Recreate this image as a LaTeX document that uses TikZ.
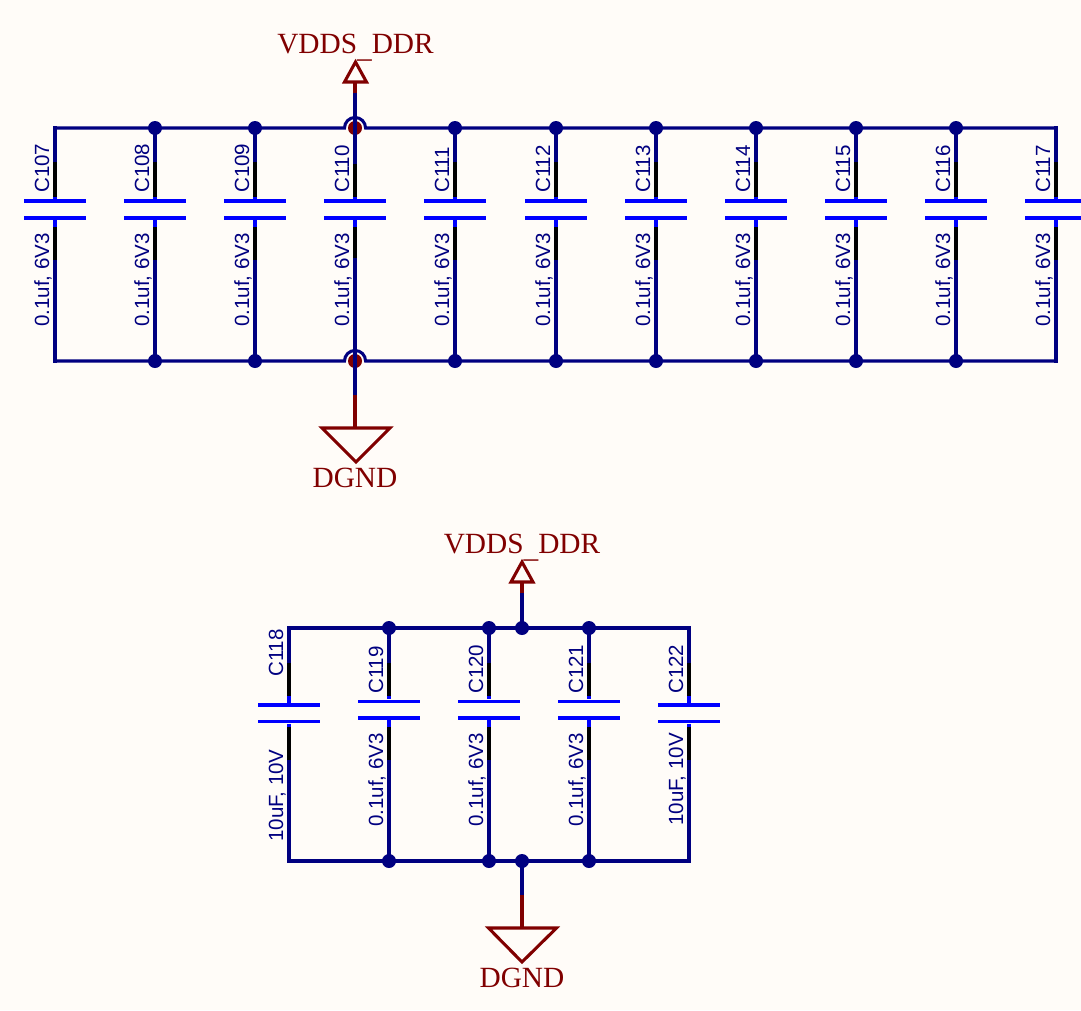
\documentclass[tikz,border=0pt]{standalone}
\usepackage{fontspec}
\setmainfont{Liberation Serif}
\setsansfont{Liberation Sans}
\usetikzlibrary{positioning}
\definecolor{paper}{HTML}{FFFCF8}
\definecolor{wirenavy}{HTML}{000080}
\definecolor{capblue}{HTML}{0000FF}
\definecolor{portred}{HTML}{800000}
\tikzstyle{wire} = [draw=wirenavy,line width=2.3pt,line cap=rect]
\tikzstyle{pin} = [draw=black,line width=2.3pt]
\tikzstyle{stub} = [draw=capblue,line width=2.3pt]
\tikzstyle{portwire} = [draw=portred,line width=2.3pt]
\tikzstyle{plate}=[rectangle,fill=capblue,minimum width=46.5pt,minimum height=2.7pt,inner sep=0pt]
\tikzstyle{junction}=[circle,fill=wirenavy,minimum size=10.5pt,inner sep=0pt]
\tikzstyle{hopdot}=[circle,fill=portred,minimum size=10.5pt,inner sep=0pt]
\tikzstyle{caplabel} = [font=\sffamily\fontsize{15.4}{18}\selectfont,text=wirenavy,rotate=90,anchor=base west,inner sep=0pt]
\tikzstyle{portlabel} = [font=\rmfamily\fontsize{22}{26}\selectfont,text=portred,anchor=base,inner sep=0pt]

\begin{document}
\begin{tikzpicture}[x=0.75pt,y=-0.75pt]
    \useasboundingbox (0,0) rectangle (1081,1010);
    \clip (0,0) rectangle (1081,1010);
    \fill[paper] (0,0) rectangle (1081,1010);

    % Upper bank, eleven capacitors
    \foreach \x/\name in {55/C107, 155/C108, 255/C109, 355/C110, 455/C111, 556/C112, 656/C113, 756/C114, 856/C115, 956/C116, 1056/C117}{
        \coordinate (\name t) at (\x,128);
        \coordinate (\name u) at (\x,162);
        \coordinate (\name v) at (\x,197);
        \coordinate (\name w) at (\x,227);
        \coordinate (\name y) at (\x,260);
        \coordinate (\name z) at (\x,361);
        \node[plate] (\name a) at (\x,201) {};
        \node[plate] (\name b) at (\x,218) {};
        \path[wire] (\name t) -- (\name u);
        \path[wire] (\name y) -- (\name z);
        \path[stub] (\name v) -- (\name a);
        \path[stub] (\name b) -- (\name w);
        \path[pin] (\name u) -- (\name v);
        \path[pin] (\name w) -- (\name y);
        \node[caplabel] (\name n) at (\x-6,193) {\name};
        \node[caplabel] (\name m) at (\x-6,327) {0.1uf, 6V3};
    }

    % Rails, hopping over the middle column
    \coordinate (hopta) at (344.5,128);
    \coordinate (hopba) at (344.5,361);
    \path[wire] (C107t) -- (hopta) arc[start angle=180,end angle=0,radius=7.9pt] -- (C117t);
    \path[wire] (C107z) -- (hopba) arc[start angle=180,end angle=0,radius=7.9pt] -- (C117z);

    \foreach \name in {C108, C109, C111, C112, C113, C114, C115, C116}{
        \node[junction] (\name j) at (\name t) {};
        \node[junction] (\name k) at (\name z) {};
    }
    \node[hopdot] (C110j) at (C110t) {};
    \node[hopdot] (C110k) at (C110z) {};

    % Ports of upper bank
    \coordinate (vddsa) at (355,93);
    \coordinate (vddsb) at (355,82);
    \coordinate (vddsc) at (344.5,82);
    \coordinate (vddsd) at (355.5,62);
    \coordinate (vddse) at (366.5,82);
    \coordinate (dgnda) at (355,395);
    \coordinate (dgndb) at (355,428);
    \coordinate (dgndc) at (322,428);
    \coordinate (dgndd) at (356,462);
    \coordinate (dgnde) at (390,428);
    \path[wire] (C110t) -- (vddsa);
    \path[wire] (C110u) -- (C110t);
    \path[wire] (C110z) -- (C110y);
    \path[wire] (C110z) -- (dgnda);
    \path[portwire] (vddsa) -- (vddsb);
    \path[portwire] (dgnda) -- (dgndb);
    \path[portwire,line join=miter] (vddsc) -- (vddsd) -- (vddse) -- cycle;
    \path[portwire,line join=miter] (dgndc) -- (dgndd) -- (dgnde) -- cycle;
    \node[portlabel] (vddsn) at (355.5,53) {VDDS\raisebox{-3pt}{\_}DDR};
    \node[portlabel] (dgndn) at (355,487) {DGND};

    % Lower bank, five capacitors
    \foreach \x/\name/\val/\pa/\na/\nb in {289/C118/{10uF, 10V}/705/677/842, 389/C119/{0.1uf, 6V3}/701.5/694/827, 489/C120/{0.1uf, 6V3}/701.5/694/827, 589/C121/{0.1uf, 6V3}/701.5/694/827, 689/C122/{10uF, 10V}/705/694/826}{
        \coordinate (\name t) at (\x,628);
        \coordinate (\name u) at (\x,663);
        \coordinate (\name v) at (\x,696);
        \coordinate (\name w) at (\x,727);
        \coordinate (\name y) at (\x,760);
        \coordinate (\name z) at (\x,861);
        \node[plate] (\name a) at (\x,\pa) {};
        \node[plate] (\name b) at (\x,\pa+16.5) {};
        \path[wire] (\name t) -- (\name u);
        \path[wire] (\name y) -- (\name z);
        \path[stub] (\name v) -- (\name a);
        \path[stub] (\name b) -- (\name w);
        \path[pin] (\name u) -- (\name v);
        \path[pin] (\name w) -- (\name y);
        \node[caplabel] (\name n) at (\x-6,\na) {\name};
        \node[caplabel] (\name m) at (\x-6,\nb) {\val};
    }

    % Rails and ports of lower bank
    \coordinate (vddpa) at (522,593);
    \coordinate (vddpb) at (522,582);
    \coordinate (vddpc) at (511,582);
    \coordinate (vddpd) at (522,562);
    \coordinate (vddpe) at (533,582);
    \coordinate (gndpa) at (522,895);
    \coordinate (gndpb) at (522,928);
    \coordinate (gndpc) at (488.5,928);
    \coordinate (gndpd) at (522,962);
    \coordinate (gndpe) at (556.5,928);
    \path[wire] (C118t) -- (C122t);
    \path[wire] (C118z) -- (C122z);
    \node[junction] (railt) at (522,628) {};
    \node[junction] (railb) at (522,861) {};
    \foreach \name in {C119, C120, C121}{
        \node[junction] (\name j) at (\name t) {};
        \node[junction] (\name k) at (\name z) {};
    }
    \path[wire] (railt) -- (vddpa);
    \path[wire] (railb) -- (gndpa);
    \path[portwire] (vddpa) -- (vddpb);
    \path[portwire] (gndpa) -- (gndpb);
    \path[portwire,line join=miter] (vddpc) -- (vddpd) -- (vddpe) -- cycle;
    \path[portwire,line join=miter] (gndpc) -- (gndpd) -- (gndpe) -- cycle;
    \node[portlabel] (vddpn) at (522,553) {VDDS\raisebox{-3pt}{\_}DDR};
    \node[portlabel] (gndpn) at (522,987) {DGND};

\end{tikzpicture}
\end{document}
